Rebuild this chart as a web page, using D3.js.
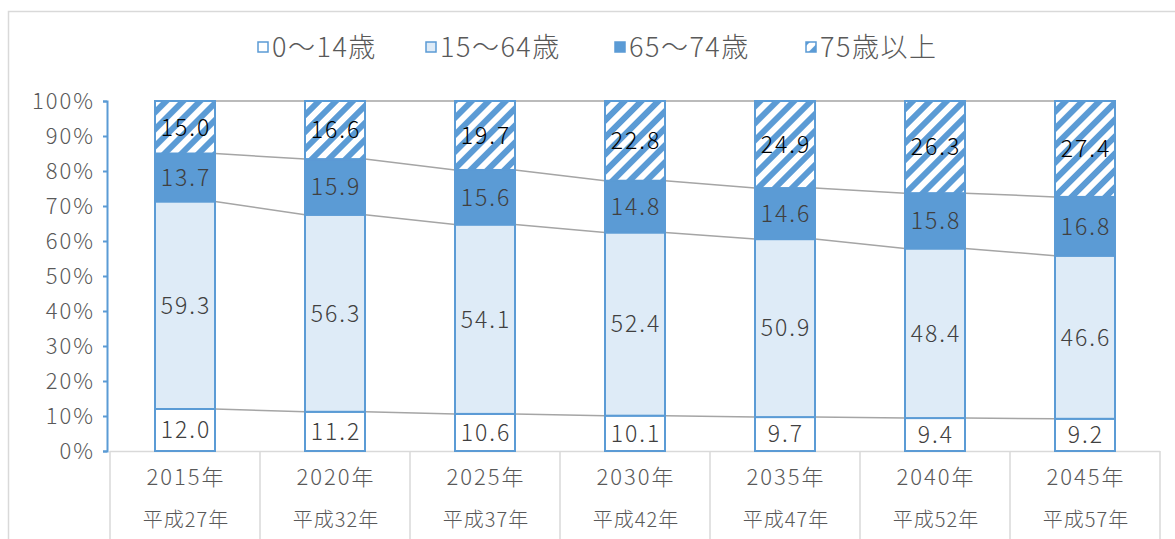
<!DOCTYPE html>
<html>
<head>
<meta charset="utf-8">
<script src="https://cdn.jsdelivr.net/npm/d3@7"></script>
<style>
  body { margin: 0; background: #fff; }
  svg { display: block; font-family: "Noto Sans CJK JP", "Noto Sans", sans-serif; font-weight: 300; }
</style>
</head>
<body>
<div id="chart"></div>
<script>
var years = ["2015年", "2020年", "2025年", "2030年", "2035年", "2040年", "2045年"];
var eras = ["平成27年", "平成32年", "平成37年", "平成42年", "平成47年", "平成52年", "平成57年"];
var seriesNames = ["0～14歳", "15～64歳", "65～74歳", "75歳以上"];
var age0to14 = [12.0, 11.2, 10.6, 10.1, 9.7, 9.4, 9.2];
var age15to64 = [59.3, 56.3, 54.1, 52.4, 50.9, 48.4, 46.6];
var age65to74 = [13.7, 15.9, 15.6, 14.8, 14.6, 15.8, 16.8];
var age75plus = [15.0, 16.6, 19.7, 22.8, 24.9, 26.3, 27.4];
var yTicks = [0, 0.1, 0.2, 0.3, 0.4, 0.5, 0.6, 0.7, 0.8, 0.9, 1];

var W = 1175, H = 539;
var BLUE = "#5B9BD5";
var TEXT = "#595959";

var rows = years.map(function(y, i) {
  return {year: y, era: eras[i], s0: age0to14[i], s1: age15to64[i], s2: age65to74[i], s3: age75plus[i]};
});
var keys = ["s0", "s1", "s2", "s3"];
var stacked = d3.stack().keys(keys).offset(d3.stackOffsetExpand)(rows);

var svg = d3.select("#chart").append("svg")
  .attr("width", W)
  .attr("height", H);

var defs = svg.append("defs");
var pat = defs.append("pattern")
  .attr("id", "hatch")
  .attr("patternUnits", "userSpaceOnUse")
  .attr("width", 12)
  .attr("height", 12)
  .attr("patternTransform", "rotate(45)");
pat.append("rect").attr("width", 12).attr("height", 12).attr("fill", BLUE);
pat.append("rect").attr("x", 0).attr("width", 6).attr("height", 12).attr("fill", "#fff");

var fills = {s0: "#fff", s1: "#DEEBF7", s2: BLUE, s3: "url(#hatch)"};
var labelColors = {s0: "#404040", s1: "#404040", s2: "#404040", s3: "#000"};

// chart border
svg.append("rect")
  .attr("x", 8.5).attr("y", 11.5)
  .attr("width", W + 20).attr("height", H + 20)
  .attr("fill", "none")
  .attr("stroke", "#d9d9d9")
  .attr("stroke-width", 1.5);

var x = d3.scaleBand()
  .domain(years)
  .range([110, 1160])
  .paddingInner(0.6)
  .paddingOuter(0.3);

var y = d3.scaleLinear()
  .domain([0, 1])
  .range([451, 101]);

// category grid
var cat = svg.append("g").attr("class", "cat-grid");
cat.append("line")
  .attr("x1", x.range()[0]).attr("x2", x.range()[1])
  .attr("y1", y(0) + 0.5).attr("y2", y(0) + 0.5)
  .attr("stroke", "#d9d9d9").attr("stroke-width", 1.5);
cat.selectAll(".sep")
  .data(years.concat(["end"]))
  .enter().append("line")
  .attr("class", "sep")
  .attr("x1", function(d, i) { return x.range()[0] + i * x.step(); })
  .attr("x2", function(d, i) { return x.range()[0] + i * x.step(); })
  .attr("y1", y(0))
  .attr("y2", H)
  .attr("stroke", "#d9d9d9").attr("stroke-width", 1.5);

cat.selectAll(".yr")
  .data(rows)
  .enter().append("text")
  .attr("class", "yr")
  .attr("x", function(d) { return x(d.year) + x.bandwidth() / 2 + 1; })
  .attr("y", 485)
  .attr("text-anchor", "middle")
  .attr("font-size", 22)
  .attr("letter-spacing", 2)
  .attr("fill", TEXT)
  .text(function(d) { return d.year; });

cat.selectAll(".era")
  .data(rows)
  .enter().append("text")
  .attr("class", "era")
  .attr("x", function(d) { return x(d.year) + x.bandwidth() / 2 + 1; })
  .attr("y", 527)
  .attr("text-anchor", "middle")
  .attr("font-size", 20)
  .attr("letter-spacing", 1)
  .attr("fill", TEXT)
  .text(function(d) { return d.era; });

// series lines
var lines = svg.append("g").attr("class", "series-lines");
stacked.forEach(function(layer) {
  for (var i = 0; i < layer.length - 1; i++) {
    lines.append("line")
      .attr("x1", x(years[i]) + x.bandwidth())
      .attr("x2", x(years[i + 1]))
      .attr("y1", y(layer[i][1]))
      .attr("y2", y(layer[i + 1][1]))
      .attr("stroke", "#A5A5A5")
      .attr("stroke-width", 1.5);
  }
});

// bars
var layers = svg.append("g").attr("class", "bars")
  .selectAll("g")
  .data(stacked)
  .enter().append("g");

layers.selectAll("rect")
  .data(function(d) { return d.map(function(p) { return {key: d.key, p: p}; }); })
  .enter().append("rect")
  .attr("x", function(d) { return x(d.p.data.year); })
  .attr("y", function(d) { return y(d.p[1]); })
  .attr("width", x.bandwidth())
  .attr("height", function(d) { return y(d.p[0]) - y(d.p[1]); })
  .attr("fill", function(d) { return fills[d.key]; })
  .attr("stroke", BLUE)
  .attr("stroke-width", 2);

layers.selectAll("text")
  .data(function(d) { return d.map(function(p) { return {key: d.key, p: p}; }); })
  .enter().append("text")
  .attr("x", function(d) { return x(d.p.data.year) + x.bandwidth() / 2 + 1; })
  .attr("y", function(d) { return (y(d.p[0]) + y(d.p[1])) / 2; })
  .attr("dy", "0.36em")
  .attr("text-anchor", "middle")
  .attr("font-size", 23)
  .attr("letter-spacing", 2)
  .attr("fill", function(d) { return labelColors[d.key]; })
  .text(function(d) { return d.p.data[d.key].toFixed(1); });

// y axis
var yAxis = svg.append("g")
  .attr("transform", "translate(107,0)")
  .call(d3.axisLeft(y).tickValues(yTicks).tickFormat(d3.format(".0%")).tickSize(4).tickSizeOuter(4).tickPadding(10));
yAxis.select(".domain").attr("stroke", BLUE).attr("stroke-width", 2);
yAxis.selectAll(".tick line").attr("stroke", BLUE).attr("stroke-width", 2);
yAxis.selectAll(".tick text")
  .attr("font-family", "\"Noto Sans CJK JP\", sans-serif")
  .attr("font-size", 22)
  .attr("letter-spacing", 2)
  .attr("dx", 2)
  .attr("fill", TEXT);

// legend
var legendX = [257, 425, 614, 805];
var legend = svg.append("g").attr("class", "legend");
var li = legend.selectAll("g")
  .data(seriesNames)
  .enter().append("g")
  .attr("transform", function(d, i) { return "translate(" + legendX[i] + ",47)"; });
li.append("rect")
  .attr("x", 1).attr("y", -5)
  .attr("width", 10).attr("height", 10)
  .attr("fill", function(d, i) { return fills[keys[i]]; })
  .attr("stroke", BLUE)
  .attr("stroke-width", 1.5);
li.append("text")
  .attr("x", 15)
  .attr("dy", "0.36em")
  .attr("font-size", 27)
  .attr("letter-spacing", 1.5)
  .attr("fill", TEXT)
  .text(function(d) { return d; });
</script>
</body>
</html>
